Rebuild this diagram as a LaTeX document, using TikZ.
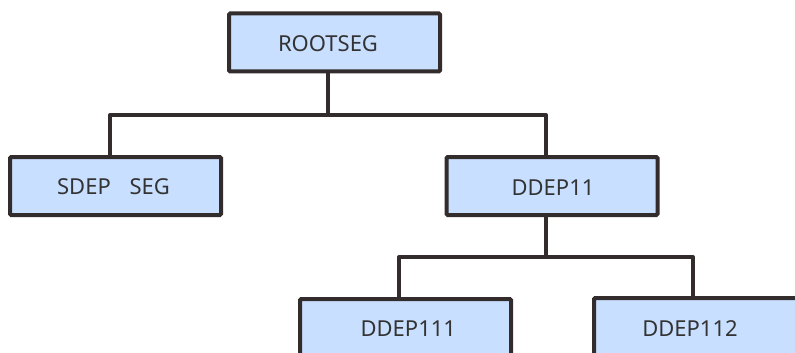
\documentclass[tikz,border=0pt]{standalone}
\usepackage{fontspec}
\setmainfont{Noto Sans}
\definecolor{segfill}{HTML}{C9DFFF}
\definecolor{segline}{HTML}{322C2C}
\definecolor{segtext}{HTML}{333333}
\begin{document}
\begin{tikzpicture}[x=1pt,y=-1pt,
  segbox/.style={draw=segline, fill=segfill, line width=4pt, rounded corners=1.2pt,
    minimum width=211pt, minimum height=58pt, inner sep=0pt},
  segtxt/.style={anchor=base, inner sep=0pt, text=segtext, font=\fontsize{22}{22}\selectfont},
  link/.style={draw=segline, line width=4pt, line join=round}]
\useasboundingbox (0,0) rectangle (795,353);
\clip (0,0) rectangle (795,353);
% boxes
\node[segbox] (root) at (334.5,42.5) {};
\node[segbox] (sdep) at (115.5,186) {};
\node[segbox] (d11) at (552,186) {};
\node[segbox] (d111) at (405.5,328) {};
\node[segbox] (d112) at (699.5,327) {};
% texts
\node[segtxt] (troot) at (328,51.8) {ROOTSEG};
\node[segtxt] (tsdep) at (113.5,194.8) {SDEP\hspace{0.85em}SEG};
\node[segtxt] (td11) at (553,195) {DDEP11};
\node[segtxt] (td111) at (408.3,336) {DDEP111};
\node[segtxt] (td112) at (690,336.5) {DDEP112};
% junctions
\coordinate (j1) at (328,115);
\coordinate (a1) at (110,115);
\coordinate (a2) at (546,115);
\coordinate (j2) at (546,257);
\coordinate (b1) at (399,257);
\coordinate (b2) at (693,257);
% connectors
\draw[link] (root.south -| j1) -- (j1);
\draw[link] (sdep.north -| a1) -- (a1) -- (a2) -- (d11.north -| a2);
\draw[link] (d11.south -| j2) -- (j2);
\draw[link] (d111.north -| b1) -- (b1) -- (b2) -- (d112.north -| b2);
\end{tikzpicture}
\end{document}
